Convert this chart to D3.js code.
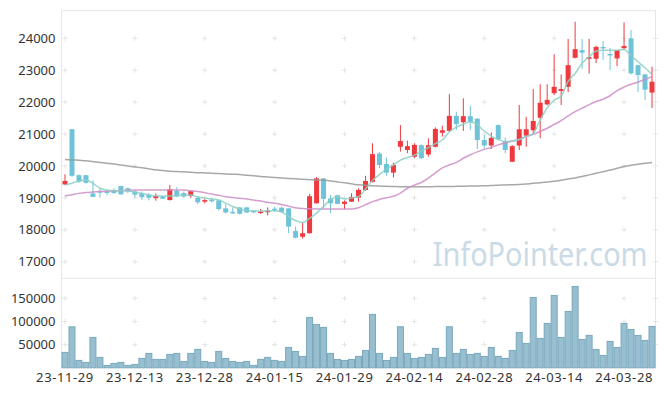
<!DOCTYPE html>
<html>
<head>
<meta charset="utf-8">
<script src="https://cdn.jsdelivr.net/npm/d3@7"></script>
<style>
  body { margin: 0; background: #fff; }
  svg { display: block; font-family: "Noto Sans", sans-serif; }
</style>
</head>
<body>
<script>
// trading days (YY-MM-DD)
var dates = ["23-11-29","23-11-30","23-12-01","23-12-04","23-12-05","23-12-06","23-12-07","23-12-08","23-12-11","23-12-12",
  "23-12-13","23-12-14","23-12-15","23-12-18","23-12-19","23-12-20","23-12-21","23-12-22","23-12-26","23-12-27",
  "23-12-28","24-01-02","24-01-03","24-01-04","24-01-05","24-01-08","24-01-09","24-01-10","24-01-11","24-01-12",
  "24-01-15","24-01-16","24-01-17","24-01-18","24-01-19","24-01-22","24-01-23","24-01-24","24-01-25","24-01-26",
  "24-01-29","24-01-30","24-01-31","24-02-01","24-02-02","24-02-05","24-02-06","24-02-07","24-02-08","24-02-13",
  "24-02-14","24-02-15","24-02-16","24-02-19","24-02-20","24-02-21","24-02-22","24-02-23","24-02-26","24-02-27",
  "24-02-28","24-02-29","24-03-04","24-03-05","24-03-06","24-03-07","24-03-08","24-03-11","24-03-12","24-03-13",
  "24-03-14","24-03-15","24-03-18","24-03-19","24-03-20","24-03-21","24-03-22","24-03-25","24-03-26","24-03-27",
  "24-03-28","24-03-29","24-04-01","24-04-02","24-04-03"];

var openP = [19420,21150,19710,19710,19140,19210,19200,19220,19370,19300,
  19200,19140,19100,18990,19050,18930,19220,19150,19060,19000,
  18880,18940,18920,18670,18560,18700,18700,18590,18550,18550,
  18660,18690,18670,17960,17780,17890,18830,19610,18980,19080,
  18810,18880,19010,19245,19500,20390,20060,19790,20600,20500,
  20290,20650,20360,20600,21040,21100,21570,21370,21560,21480,
  20810,20640,21280,20780,20130,20640,20950,21120,21510,21930,
  22280,22350,22480,23390,23630,23360,23360,23730,23510,23370,
  23690,24000,23160,22870,22300];
var highP = [19740,21160,19730,19720,19550,19300,19230,19300,19380,19320,
  19240,19200,19150,19140,19060,19400,19330,19200,19220,19050,
  18960,19010,18930,18800,18700,18710,18720,18620,18650,18700,
  18720,18730,18690,18100,18220,19120,19650,19620,19090,19100,
  18920,19140,19300,19690,20710,20440,20270,20100,21280,20790,
  20710,20680,20870,21210,21260,22250,21700,22120,21880,21500,
  20970,21050,21300,20890,20650,21910,21540,22410,22560,22560,
  23500,22870,23980,24520,23980,23980,23770,23910,23690,23630,
  24500,24260,23170,22880,23110];
var lowP = [19400,19660,19470,19450,19020,19010,19090,19130,19100,19150,
  19010,18930,18920,18910,18960,18920,19020,19000,19000,18800,
  18830,18850,18600,18510,18500,18480,18530,18520,18500,18450,
  18560,18530,17890,17730,17720,17880,18820,18670,18520,18800,
  18650,18870,18880,19220,19480,19930,19690,19640,20450,20400,
  20240,20220,20290,20580,20920,21060,21130,21100,21130,20530,
  20530,20530,20800,20400,20120,20500,20600,20970,20870,21900,
  22220,21910,22310,23370,23040,22900,23220,23320,23010,23130,
  23630,22870,22310,22070,21820];
var closeP = [19530,19690,19505,19470,19030,19180,19170,19150,19110,19200,
  19100,19020,19000,19060,18970,19270,19040,19040,19210,18860,
  18930,18920,18650,18540,18540,18500,18540,18550,18570,18600,
  18640,18560,18100,17750,17890,19050,19610,18970,18830,18810,
  18880,19030,19250,19530,20370,20030,19790,20030,20780,20620,
  20660,20240,20650,21160,21120,21570,21310,21560,21370,20810,
  20640,20880,20840,20500,20620,21150,21150,21410,21980,22070,
  22480,22410,23160,23660,23550,23410,23730,23710,23490,23630,
  23760,22900,22850,22390,22640];

// moving averages
var ma5 = [19400,19460,19530,19560,19460,19300,19245,19222,19230,19213,
  19180,19135,19090,19056,19056,19056,19070,19088,19088,19025,
  18994,18962,18930,18836,18727,18649,18600,18586,18586,18596,
  18596,18555,18414,18288,18226,18357,18523,18727,18946,19034,
  18962,18994,19040,19276,19542,19730,19900,20025,20182,20263,
  20340,20467,20577,20702,20812,21072,21220,21313,21386,21297,
  21094,20937,20828,20765,20780,20828,20922,21015,21438,21815,
  22066,22190,22650,22900,23216,23423,23600,23630,23630,23630,
  23650,23455,23266,23078,22870];
var ma20 = [19060,19100,19140,19165,19180,19195,19210,19220,19230,19240,
  19245,19245,19245,19245,19245,19245,19245,19245,19220,19200,
  19160,19120,19080,19035,19010,18985,18960,18930,18900,18860,
  18830,18790,18740,18690,18665,18655,18650,18650,18650,18650,
  18650,18650,18690,18780,18880,18950,19000,19050,19150,19300,
  19400,19480,19620,19780,19940,20030,20110,20240,20350,20440,
  20520,20580,20660,20720,20780,20830,20920,20990,21080,21180,
  21300,21420,21570,21700,21810,21920,22020,22090,22200,22360,
  22470,22560,22630,22710,22800];
var ma60 = [20205,20190,20175,20160,20135,20110,20085,20060,20030,20000,
  19970,19940,19910,19880,19855,19835,19825,19815,19805,19790,
  19780,19770,19760,19750,19740,19730,19710,19690,19670,19655,
  19640,19625,19610,19595,19580,19570,19560,19550,19530,19500,
  19470,19440,19410,19395,19380,19370,19360,19355,19350,19350,
  19350,19350,19350,19352,19355,19355,19360,19365,19370,19375,
  19380,19385,19395,19405,19412,19420,19435,19455,19470,19495,
  19520,19550,19590,19625,19670,19720,19770,19820,19870,19925,
  19980,20020,20055,20085,20110];

var volume = [33300,88600,16000,11700,65700,22500,5200,9500,11700,5200,
  7300,20300,31100,18200,18200,29000,31100,13800,31100,39800,
  13800,11700,35400,20300,13800,11700,13800,5200,18200,22500,
  16000,13800,44100,35400,24600,108900,93800,87300,31100,18100,
  15900,18100,24600,37500,115400,31100,15900,22400,88700,31100,
  20300,22400,28900,41900,22400,88700,31100,39700,28900,31100,
  24600,44000,24600,20300,37500,76500,52700,152100,63500,95900,
  156400,65600,121900,175900,61300,70000,39700,26700,57000,44000,
  95900,82900,70000,59200,89400];

var priceTicks = [17000,18000,19000,20000,21000,22000,23000,24000];
var volTicks = [50000,100000,150000];
var dateTickIdx = [0,10,20,30,40,50,60,70,80];

var width = 665, height = 396;
var left = 61.5, right = 655.5;
var priceTop = 10.7, priceBottom = 278.3, volBottom = 367.8;

var svg = d3.select("body").append("svg")
    .attr("width", width)
    .attr("height", height);

var x = d3.scaleBand()
    .domain(d3.range(dates.length))
    .range([left, right])
    .paddingInner(0);

var y = d3.scaleLinear()
    .domain([16478, 24866])
    .range([priceBottom, priceTop]);

var yv = d3.scaleLinear()
    .domain([0, 193500])
    .range([volBottom, priceBottom]);

function cx(i) { return x(i) + x.bandwidth() / 2; }

// frame
var frame = svg.append("g").attr("stroke", "#e6e6e6").attr("stroke-width", 1).attr("fill", "none");
frame.append("line").attr("x1", left).attr("x2", right).attr("y1", priceTop).attr("y2", priceTop);
frame.append("line").attr("x1", left).attr("x2", right).attr("y1", priceBottom).attr("y2", priceBottom);
frame.append("line").attr("x1", left).attr("x2", left).attr("y1", priceTop).attr("y2", volBottom);
frame.append("line").attr("x1", right).attr("x2", right).attr("y1", priceTop).attr("y2", volBottom);

// little "+" grid marks
var crossX = dateTickIdx.map(cx).concat([right]);
var crossY = priceTicks.map(y).concat(volTicks.map(yv));
var crosses = svg.append("g").attr("stroke", "#e4e4e4").attr("stroke-width", 1);
crossX.forEach(function(cxv) {
  crossY.forEach(function(cyv) {
    crosses.append("line").attr("x1", cxv - 2.5).attr("x2", cxv + 2.5).attr("y1", cyv).attr("y2", cyv);
    crosses.append("line").attr("x1", cxv).attr("x2", cxv).attr("y1", cyv - 2.5).attr("y2", cyv + 2.5);
  });
});

// watermark (squeezed a little to match the narrower original font)
svg.append("text")
    .attr("transform", "translate(647.5,265.7) scale(0.9,1)")
    .attr("text-anchor", "end")
    .attr("font-size", 32)
    .attr("fill", "#c9dbe6")
    .text("InfoPointer.com");

// y axes
var yAxis = d3.axisLeft(y).tickValues(priceTicks).tickFormat(d3.format("d")).tickSize(0).tickPadding(6);
var gy = svg.append("g").attr("transform", "translate(" + left + ",0)").call(yAxis);
var yvAxis = d3.axisLeft(yv).tickValues(volTicks).tickFormat(d3.format("d")).tickSize(0).tickPadding(6);
var gyv = svg.append("g").attr("transform", "translate(" + left + ",0)").call(yvAxis);

// x axis
var xAxis = d3.axisBottom(x)
    .tickValues(dateTickIdx)
    .tickFormat(function(d) { return dates[d]; })
    .tickSize(0)
    .tickPadding(5);
var gx = svg.append("g").attr("transform", "translate(0," + volBottom + ")").call(xAxis);

[gy, gyv, gx].forEach(function(g) {
  g.select(".domain").remove();
  g.selectAll("text")
    .attr("font-family", "'Noto Sans', sans-serif")
    .attr("font-size", 13)
    .attr("fill", "#333");
});
gx.selectAll("text").attr("letter-spacing", "0.6px");

// volume bars
svg.append("g").selectAll("rect")
    .data(volume)
    .enter().append("rect")
    .attr("x", function(d, i) { return x(i) + 0.5; })
    .attr("y", function(d) { return yv(d); })
    .attr("width", x.bandwidth() - 1)
    .attr("height", function(d) { return volBottom - yv(d); })
    .attr("fill", "#98bfd0")
    .attr("stroke", "#79a8bd")
    .attr("stroke-width", 1);

// candles
var upColor = "#ee3a3f", downColor = "#6fc3d8";
var candles = svg.append("g").selectAll("g")
    .data(d3.range(dates.length))
    .enter().append("g");

candles.append("line")
    .attr("x1", cx).attr("x2", cx)
    .attr("y1", function(i) { return y(highP[i]); })
    .attr("y2", function(i) { return y(lowP[i]); })
    .attr("stroke", function(i) { return closeP[i] >= openP[i] ? upColor : downColor; })
    .attr("stroke-width", 1);

candles.append("rect")
    .attr("x", function(i) { return cx(i) - 2.5; })
    .attr("width", 5)
    .attr("y", function(i) { return y(Math.max(openP[i], closeP[i])); })
    .attr("height", function(i) { return Math.max(1.5, Math.abs(y(openP[i]) - y(closeP[i]))); })
    .attr("fill", function(i) { return closeP[i] >= openP[i] ? upColor : downColor; });

// moving average lines
function maLine(values, color) {
  var line = d3.line()
      .x(function(d, i) { return cx(i); })
      .y(function(d) { return y(d); })
      .curve(d3.curveMonotoneX);
  svg.append("path")
      .datum(values)
      .attr("d", line)
      .attr("fill", "none")
      .attr("stroke", color)
      .attr("stroke-width", 1.5)
      .attr("stroke-opacity", 0.85);
}
maLine(ma60, "#999999");
maLine(ma20, "#cc8cc6");
maLine(ma5, "#8ccfc6");
</script>
</body>
</html>
